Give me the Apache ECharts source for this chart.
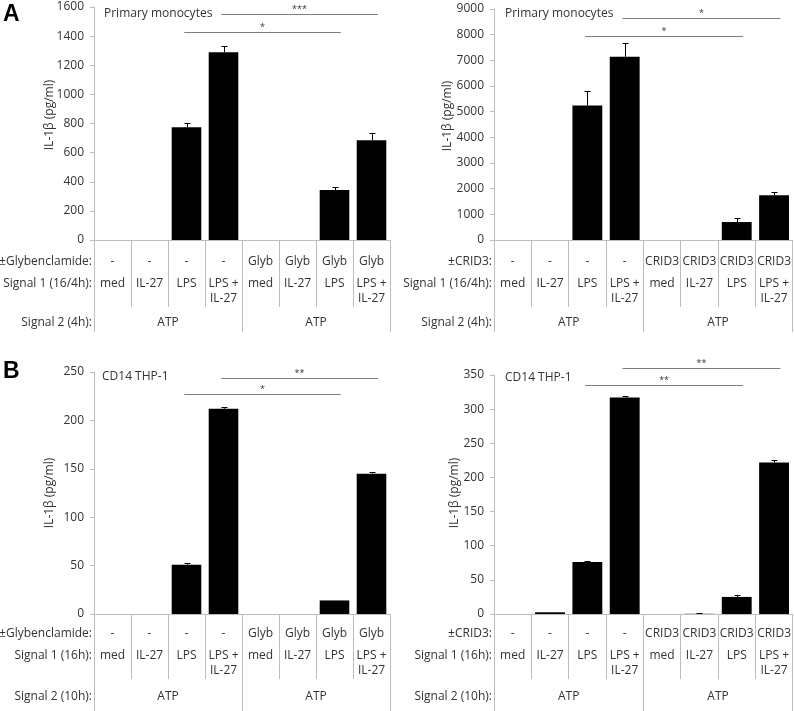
<!DOCTYPE html>
<html><head><meta charset="utf-8">
<script src="https://cdn.jsdelivr.net/npm/echarts@6/dist/echarts.min.js"></script>
<style>html,body{margin:0;padding:0;background:#fff}#c{width:794px;height:711px}</style>
</head><body><div id="c"></div>
<script>
// ---------- data ----------
const signal1Labels = ['med','IL-27','LPS','LPS +\nIL-27','med','IL-27','LPS','LPS +\nIL-27'];
const glybRow = ['-','-','-','-','Glyb','Glyb','Glyb','Glyb'];
const crid3Row = ['-','-','-','-','CRID3','CRID3','CRID3','CRID3'];
const signal2Groups = ['ATP','ATP'];

const aLeftMean  = [0,0,775,1290,0,0,343,685];
const aLeftErr   = [0,0,28,45,0,0,20,48];
const aRightMean = [0,0,5240,7140,0,0,700,1740];
const aRightErr  = [0,0,580,550,0,0,150,120];
const bLeftMean  = [0,0,51,212,0,0,14,145];
const bLeftErr   = [0,0,1.5,1.5,0,0,0,1.5];
const bRightMean = [0,2.5,76,317,0,0.3,25,222];
const bRightErr  = [0,0,1,2.5,0,0.8,2.5,4];

// significance brackets: [fromIndex, toIndex, yValue]
const aLeftSig  = [[3,7,1552],[2,6,1429]];
const aLeftStars = ['***','*'];
const aRightSig = [[3,7,8660],[2,6,7960]];
const aRightStars = ['*','*'];
const bLeftSig  = [[3,7,243.5],[2,6,227]];
const bLeftStars = ['**','*'];
const bRightSig = [[3,7,360],[2,6,336]];
const bRightStars = ['**','**'];

const yMaxes = [1600, 9000, 250, 350];
const yIntervals = [200, 1000, 50, 50];

const cellTitles = ['Primary monocytes','Primary monocytes','CD14 THP-1','CD14 THP-1'];
const treatLabels = ['±Glybenclamide:','±CRID3:','±Glybenclamide:','±CRID3:'];
const sig1Titles = ['Signal 1 (16/4h):','Signal 1 (16/4h):','Signal 1 (16h):','Signal 1 (16h):'];
const sig2Titles = ['Signal 2 (4h):','Signal 2 (4h):','Signal 2 (10h):','Signal 2 (10h):'];
const yName = 'IL-1β (pg/ml)';
const panelLetters = ['A','B'];

// ---------- layout ----------
const FONT = 'Open Sans';
const TXT = '#333';
const AXC = '#bdbdbd';
const layout = [
  {left:94, top:7,   width:296, height:233, r1:22, r2:44, sep:67, grp:92, nameX:50,  nameY:115, titleX:104, titleY:14},
  {left:494,top:9,   width:299, height:231, r1:22, r2:44, sep:67, grp:92, nameX:448, nameY:116, titleX:505, titleY:14},
  {left:94, top:372, width:296, height:242, r1:20, r2:42, sep:65, grp:100, nameX:50, nameY:493, titleX:102, titleY:377},
  {left:494,top:375, width:299, height:239, r1:20, r2:42, sep:65, grp:100, nameX:455, nameY:493, titleX:505, titleY:378}
];
const means = [aLeftMean, aRightMean, bLeftMean, bRightMean];
const errs = [aLeftErr, aRightErr, bLeftErr, bRightErr];
const sigs = [aLeftSig, aRightSig, bLeftSig, bRightSig];
const stars = [aLeftStars, aRightStars, bLeftStars, bRightStars];
const treats = [glybRow, crid3Row, glybRow, crid3Row];

const grid = [], xAxis = [], yAxis = [], series = [], graphic = [];
const LH = 15;

layout.forEach((L, g) => {
  grid.push({left:L.left, top:L.top, width:L.width, height:L.height});
  // axis 0: categories (Signal 1 row) + separators
  xAxis.push({
    type:'category', gridIndex:g, data:signal1Labels, position:'bottom',
    axisLine:{show:true, lineStyle:{color:AXC, width:1}},
    axisTick:{show:true, length:L.sep, lineStyle:{color:AXC}},
    axisLabel:{interval:0, margin:L.r2 - LH/2, color:TXT, fontFamily:FONT, fontSize:12, lineHeight:LH}
  });
  // axis 1: treatment row
  xAxis.push({
    type:'category', gridIndex:g, data:treats[g], position:'bottom',
    axisLine:{show:false}, axisTick:{show:false},
    axisLabel:{interval:0, margin:L.r1 - LH/2, color:TXT, fontFamily:FONT, fontSize:12, lineHeight:LH}
  });
  // axis 2: Signal 2 groups
  xAxis.push({
    type:'category', gridIndex:g, data:signal2Groups, position:'bottom',
    axisLine:{show:false},
    axisTick:{show:true, length:L.grp, lineStyle:{color:AXC}},
    axisLabel:{interval:0, margin:83 - LH/2, color:TXT, fontFamily:FONT, fontSize:12, lineHeight:LH}
  });
  yAxis.push({
    type:'value', gridIndex:g, min:0, max:yMaxes[g], interval:yIntervals[g],
    axisLine:{show:true, lineStyle:{color:AXC}},
    axisTick:{show:true, length:4, lineStyle:{color:AXC}},
    splitLine:{show:false},
    axisLabel:{margin:10, color:TXT, fontFamily:FONT, fontSize:12, formatter:(v)=>String(v)}
  });
  series.push({
    type:'bar', xAxisIndex:g*3, yAxisIndex:g, data:means[g], barWidth:'80%',
    itemStyle:{color:'#000'}, silent:true, animation:false
  });
  series.push({
    type:'custom', xAxisIndex:g*3, yAxisIndex:g, animation:false, silent:true, clip:false,
    data:means[g].map((m,i)=>[i, m, errs[g][i]]),
    renderItem:(params, api) => {
      const x = api.value(0), v = api.value(1), e = api.value(2);
      if (!(e > 0)) return null;
      const p0 = api.coord([x, v]), p1 = api.coord([x, v + e]);
      const xx = Math.round(p0[0]) + 0.5, yt = Math.round(p1[1]) + 0.5;
      return {type:'group', children:[
        {type:'line', shape:{x1:xx, y1:p0[1], x2:xx, y2:yt}, style:{stroke:'#000', lineWidth:1}},
        {type:'line', shape:{x1:xx-3, y1:yt, x2:xx+3, y2:yt}, style:{stroke:'#000', lineWidth:1}}
      ]};
    }
  });
  const st = stars[g];
  series.push({
    type:'custom', xAxisIndex:g*3, yAxisIndex:g, animation:false, silent:true, clip:false,
    data:sigs[g],
    renderItem:(params, api) => {
      const a = api.value(0), b = api.value(1), y = api.value(2);
      const p1 = api.coord([a, y]), p2 = api.coord([b, y]);
      const bw = api.size([1, 0])[0];
      const x1 = p1[0] - 0.06*bw, x2 = p2[0] + 0.17*bw;
      const yy = Math.round(p1[1]) + 0.5;
      return {type:'group', children:[
        {type:'line', shape:{x1:x1, y1:yy, x2:x2, y2:yy}, style:{stroke:'#7f7f7f', lineWidth:1}},
        {type:'text', x:(x1+x2)/2, y:yy-1, style:{text:st[params.dataIndex], fontSize:9, fontFamily:FONT, fill:TXT, align:'center', verticalAlign:'bottom'}}
      ]};
    }
  });
  const axisY = L.top + L.height;
  const right = L.left - 2;
  graphic.push({type:'text', x:right, y:axisY + L.r1, style:{text:treatLabels[g], fontSize:12, fontFamily:FONT, fill:TXT, align:'right', verticalAlign:'middle'}});
  graphic.push({type:'text', x:right, y:axisY + L.r2, style:{text:sig1Titles[g], fontSize:12, fontFamily:FONT, fill:TXT, align:'right', verticalAlign:'middle'}});
  graphic.push({type:'text', x:right, y:axisY + 83, style:{text:sig2Titles[g], fontSize:12, fontFamily:FONT, fill:TXT, align:'right', verticalAlign:'middle'}});
  graphic.push({type:'text', x:L.nameX, y:L.nameY, rotation:Math.PI/2, style:{text:yName, fontSize:12, fontFamily:FONT, fill:TXT, align:'center', verticalAlign:'middle'}});
  graphic.push({type:'text', x:L.titleX, y:L.titleY, style:{text:cellTitles[g], fontSize:12, fontFamily:FONT, fill:TXT, align:'left', verticalAlign:'middle'}});
});
graphic.push({type:'text', x:3, y:3, style:{text:panelLetters[0], fontSize:23, fontWeight:'bold', fontFamily:'Liberation Sans', fill:'#000', align:'left', verticalAlign:'top'}});
graphic.push({type:'text', x:3, y:360, style:{text:panelLetters[1], fontSize:23, fontWeight:'bold', fontFamily:'Liberation Sans', fill:'#000', align:'left', verticalAlign:'top'}});

const chart = echarts.init(document.getElementById('c'), null, {renderer:'canvas'});
chart.setOption({animation:false, backgroundColor:'#fff', grid, xAxis, yAxis, series, graphic});
</script>
</body></html>
